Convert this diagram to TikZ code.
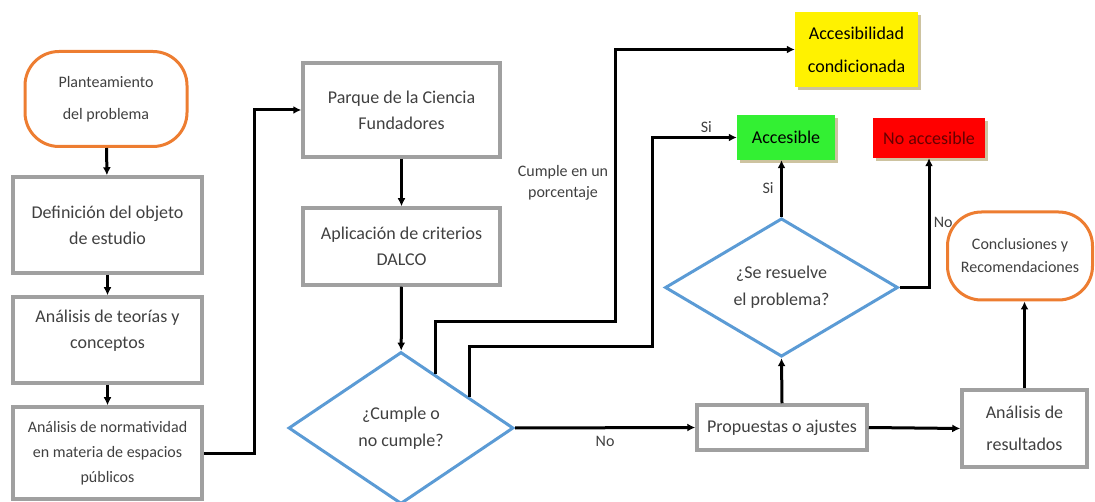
\documentclass[tikz,border=0pt]{standalone}
\usepackage{fontspec}
\setmainfont{Carlito}
\usepackage{tikz}
\usetikzlibrary{
  arrows.meta,
  shapes.geometric,
  shadows,
  calc
}
\tikzset{>=Latex}
\definecolor{ovalorange}{HTML}{ED7D31}
\definecolor{diamblue}{HTML}{5B9BD5}
\definecolor{boxgray}{HTML}{A0A0A0}
\definecolor{txtgray}{HTML}{404040}
\definecolor{accgreen}{HTML}{33F033}
\definecolor{shadebeige}{HTML}{C8BC96}
\tikzset{
  oval/.style={draw=ovalorange,line width=3pt,rounded corners=34pt,align=center,
    text=txtgray,font=\fontsize{16}{32}\selectfont},
  graybox/.style={draw=boxgray,line width=3.5pt,align=center,text=txtgray,
    font=\fontsize{18}{26}\selectfont},
  decision/.style={diamond,draw=diamblue,line width=3pt,inner sep=0pt,align=center,
    text=txtgray,font=\fontsize{18}{27}\selectfont},
  colorbox/.style={align=center,inner sep=0pt,font=\fontsize{18}{33}\selectfont,
    drop shadow={shadow xshift=3pt,shadow yshift=-3pt,fill=shadebeige,opacity=0.9}},
  arr/.style={->,line width=3pt,>={Latex[length=8pt,width=8pt]}},
  lbl/.style={text=txtgray,font=\fontsize{16}{21}\selectfont,align=center}
}
\begin{document}
\begin{tikzpicture}[x=1pt,y=-1pt]
\useasboundingbox (0,0) rectangle (1095,502);
% left column
\node[oval,minimum width=162pt,minimum height=95pt] (plan) at (106,99) {Planteamiento\\del problema};
\node[graybox,minimum width=189pt,minimum height=96pt] (defn) at (107.5,225) {Definición del objeto\\de estudio};
\node[graybox,minimum width=189pt,minimum height=86pt] (teor) at (107.5,340) {Análisis de teorías y\\conceptos\\[-4pt]};
\node[graybox,minimum width=189pt,minimum height=92pt,font=\fontsize{16}{25}\selectfont] (norm) at (107.5,453) {Análisis de normatividad\\en materia de espacios\\públicos};
% middle column
\node[graybox,minimum width=197pt,minimum height=94pt] (parque) at (401.5,110) {Parque de la Ciencia\\Fundadores};
\node[graybox,minimum width=197pt,minimum height=77pt] (aplic) at (401.5,246.5) {Aplicación de criterios\\DALCO};
\node[decision,minimum width=225pt,minimum height=152pt] (cumple) at (401,428) {¿Cumple o\\no cumple?};
% right part
\node[colorbox,fill=yellow,minimum width=123pt,minimum height=75pt] (acond) at (856.5,49.5) {Accesibilidad\\condicionada};
\node[colorbox,fill=accgreen,minimum width=98pt,minimum height=45pt] (acc) at (786,137.5) {Accesible};
\node[colorbox,fill=red,text=red!40!black,minimum width=112pt,minimum height=40pt] (noacc) at (929,138) {No accesible};
\node[decision,minimum width=233pt,minimum height=129pt] (resuel) at (781.5,287.5) {¿Se resuelve\\el problema?};
\node[graybox,minimum width=170pt,minimum height=45pt] (prop) at (782,427.5) {Propuestas o ajustes};
\node[graybox,minimum width=125pt,minimum height=77pt,font=\fontsize{18}{32}\selectfont] (anres) at (1024.5,428.5) {Análisis de\\resultados};
\node[oval,minimum width=145pt,minimum height=88pt,font=\fontsize{16}{23}\selectfont] (concl) at (1020,256) {Conclusiones y\\Recomendaciones};
\node[lbl] (pct) at (563,183) {Cumple en un\\porcentaje};
% connectors
\draw[arr] (plan) -- (defn);
\draw[arr] (defn) -- (teor);
\draw[arr] (teor) -- (norm);
\draw[arr] (norm.east) -- ++(51,0) |- (parque.west);
\draw[arr] (parque) -- (aplic);
\draw[arr] (aplic) -- (cumple);
\coordinate (c1) at ($(cumple.north)!0.3!(cumple.east)$);
\coordinate (c2) at ($(cumple.north)!0.6!(cumple.east)$);
\draw[arr] (c1) |- (615,322) |- (acond.west);
\draw[arr] (c2) |- (652,347) |- (acc.west) node[lbl,pos=0.82,above] {Si};
\draw[arr] (cumple.east) -- (prop.west) node[lbl,midway,below=4pt] {No};
\draw[arr] (resuel.north) -- (resuel.north |- acc.south) node[lbl,midway,left=3pt] {Si};
\draw[arr] (resuel.east) -| (noacc.south) node[lbl,pos=0.75,right] {No};
\draw[arr] (prop.north) -- (resuel.south);
\draw[arr] (prop.east) -- (anres.west);
\draw[arr] (anres.north) -- (anres.north |- concl.south);
\end{tikzpicture}
\end{document}
